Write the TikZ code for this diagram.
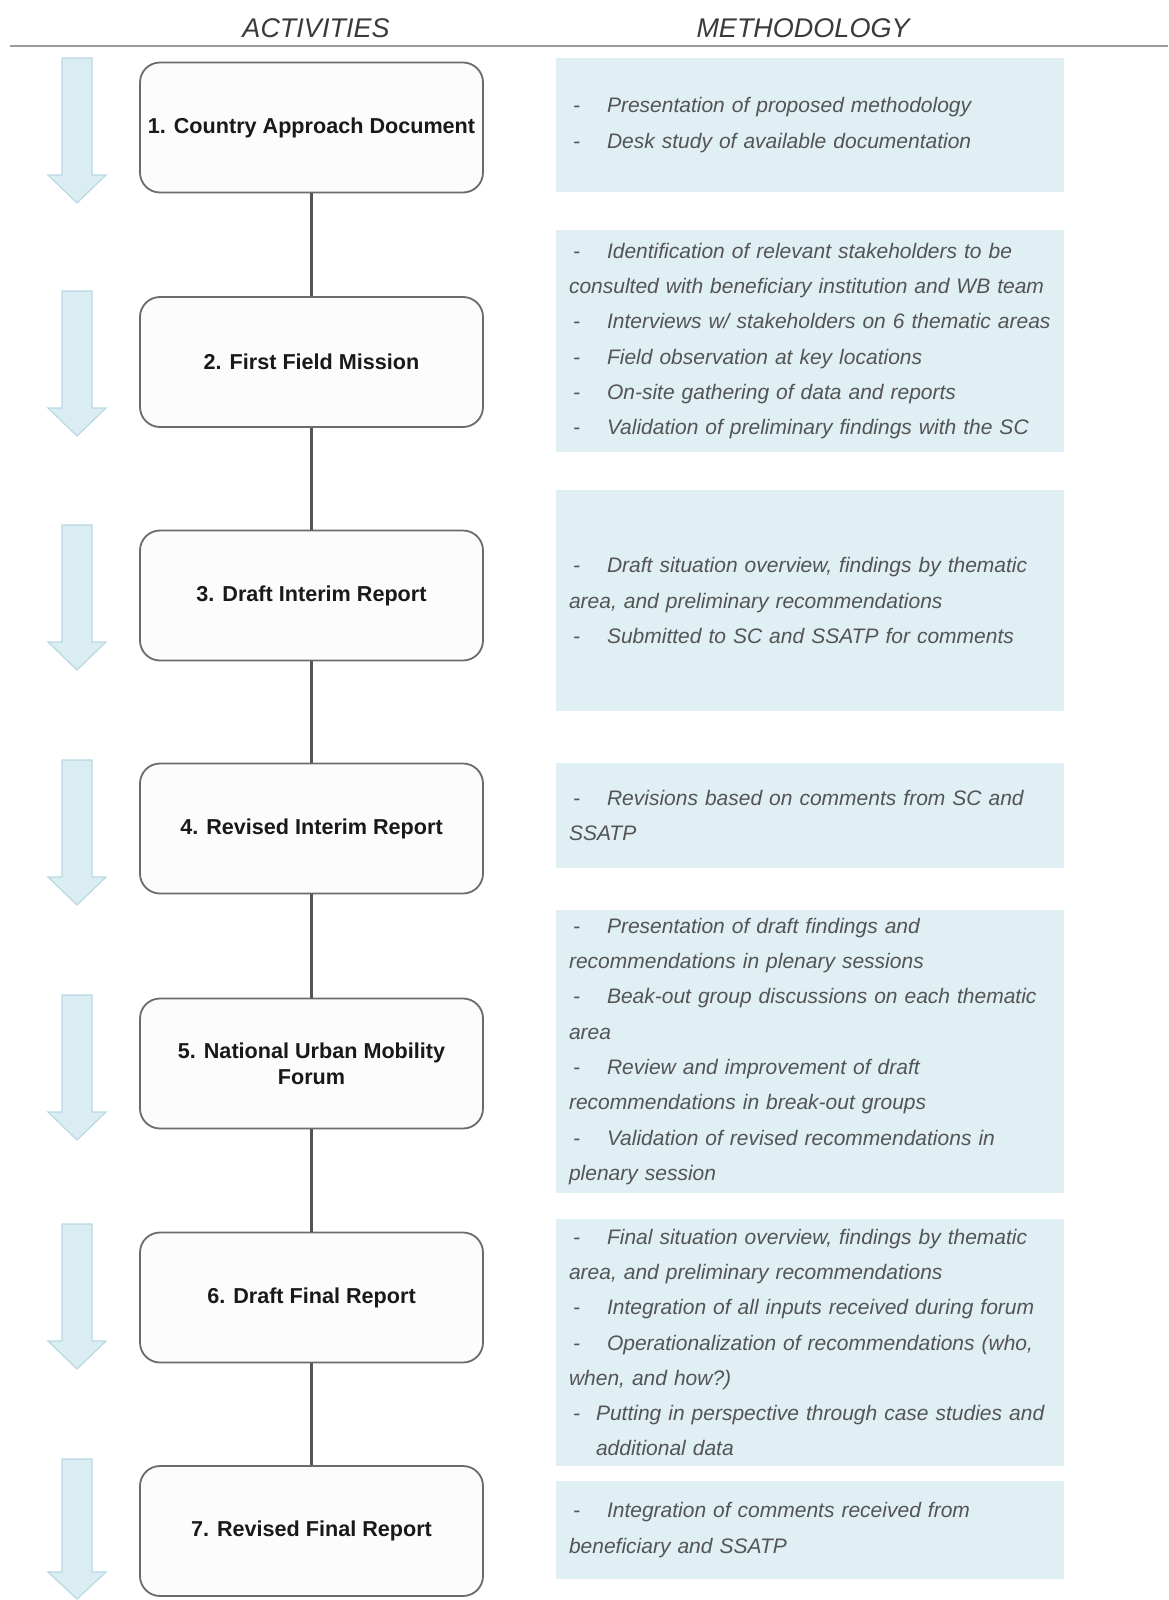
\documentclass[tikz,border=0pt]{standalone}
\usepackage{fontspec}
\setmainfont{Liberation Sans}
\definecolor{boxgray}{HTML}{6B6B6B}
\definecolor{boxfill}{HTML}{FCFCFC}
\definecolor{methfill}{HTML}{DFEFF3}
\definecolor{methtext}{HTML}{545454}
\definecolor{arrowfill}{HTML}{DAEDF2}
\definecolor{arrowdraw}{HTML}{B9D9E2}
\definecolor{linecol}{HTML}{555555}
\definecolor{headline}{HTML}{9A9A9A}
\definecolor{headtext}{HTML}{3A3A3A}
\newcommand{\mitem}{\makebox[38pt][l]{\hspace{4pt}-}}
\newcommand{\flowarr}[3]{%
  \filldraw[arrowstyle] (62,#1) -- (92,#1) -- (92,#2) -- (106,#2) -- (77,#3) -- (48,#2) -- (62,#2) -- cycle;}
\begin{document}
\begin{tikzpicture}[x=1pt,y=-1pt,
  actbox/.style={draw=boxgray, line width=1.8pt, rounded corners=20pt, fill=boxfill,
    minimum width=343pt, minimum height=130pt, inner sep=0pt, align=center,
    font=\bfseries\fontsize{21.6}{26}\selectfont, text=black!90},
  methbox/.style={fill=methfill, minimum width=508pt, text width=482pt, inner xsep=13pt,
    inner ysep=0pt, align=left, font=\itshape\fontsize{21}{35.3}\selectfont, text=methtext},
  headstyle/.style={font=\itshape\fontsize{27}{30}\selectfont, text=headtext, inner sep=0pt},
  arrowstyle/.style={fill=arrowfill, draw=arrowdraw, line width=1.2pt, line join=miter},
  conn/.style={draw=linecol, line width=2.6pt}]
\useasboundingbox (0,0) rectangle (1168,1600);

% header
\node[headstyle] (hact) at (316,28) {ACTIVITIES};
\node[headstyle] (hmeth) at (803,28) {METHODOLOGY};
\coordinate (hl1) at (10,46);
\coordinate (hl2) at (1168,46);
\draw[headline, line width=1.8pt] (hl1) -- (hl2);

% flow arrows
\flowarr{58}{175}{203}
\flowarr{291}{408}{436}
\flowarr{525}{642}{670}
\flowarr{760}{877}{905}
\flowarr{995}{1112}{1140}
\flowarr{1224}{1341}{1369}
\flowarr{1459}{1572}{1599}

% activity boxes
\node[actbox] (a1) at (311.5,127.5) {1. Country Approach Document};
\node[actbox] (a2) at (311.5,362) {2. First Field Mission};
\node[actbox] (a3) at (311.5,595.5) {3. Draft Interim Report};
\node[actbox] (a4) at (311.5,828.5) {4. Revised Interim Report};
\node[actbox] (a5) at (311.5,1063.5) {5. National Urban Mobility\\Forum};
\node[actbox] (a6) at (311.5,1297.5) {6. Draft Final Report};
\node[actbox] (a7) at (311.5,1531) {7. Revised Final Report};

\draw[conn] (a1.south) -- (a2.north);
\draw[conn] (a2.south) -- (a3.north);
\draw[conn] (a3.south) -- (a4.north);
\draw[conn] (a4.south) -- (a5.north);
\draw[conn] (a5.south) -- (a6.north);
\draw[conn] (a6.south) -- (a7.north);

% methodology boxes
\node[methbox, minimum height=134pt] (m1) at (810,125) {%
\mitem Presentation of proposed methodology\\
\mitem Desk study of available documentation};

\node[methbox, minimum height=222pt] (m2) at (810,341) {%
\mitem Identification of relevant stakeholders to be\\
consulted with beneficiary institution and WB team\\
\mitem Interviews w/ stakeholders on 6 thematic areas\\
\mitem Field observation at key locations\\
\mitem On-site gathering of data and reports\\
\mitem Validation of preliminary findings with the SC};

\node[methbox, minimum height=221pt] (m3) at (810,600.5) {%
\mitem Draft situation overview, findings by thematic\\
area, and preliminary recommendations\\
\mitem Submitted to SC and SSATP for comments};

\node[methbox, minimum height=105pt] (m4) at (810,815.5) {%
\mitem Revisions based on comments from SC and\\
SSATP};

\node[methbox, minimum height=283pt] (m5) at (810,1051.5) {%
\mitem Presentation of draft findings and\\
recommendations in plenary sessions\\
\mitem Beak-out group discussions on each thematic\\
area\\
\mitem Review and improvement of draft\\
recommendations in break-out groups\\
\mitem Validation of revised recommendations in\\
plenary session};

\node[methbox, minimum height=247pt] (m6) at (810,1342.5) {%
\mitem Final situation overview, findings by thematic\\
area, and preliminary recommendations\\
\mitem Integration of all inputs received during forum\\
\mitem Operationalization of recommendations (who,\\
when, and how?)\\
\makebox[27pt][l]{\hspace{4pt}-}Putting in perspective through case studies and\\
\hspace*{27pt}additional data};

\node[methbox, minimum height=98pt] (m7) at (810,1530) {%
\mitem Integration of comments received from\\
beneficiary and SSATP};
\end{tikzpicture}
\end{document}
